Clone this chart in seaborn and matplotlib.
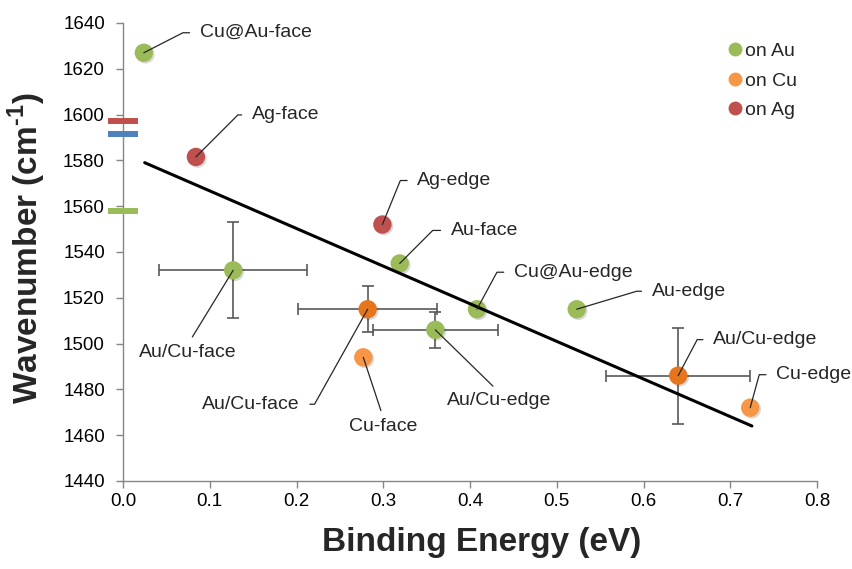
import numpy as np
import pandas as pd
import seaborn as sns
import matplotlib.pyplot as plt
import matplotlib.patheffects as pe
from matplotlib.lines import Line2D

# data
labels = ['Cu@Au-face', 'Ag-face', 'Ag-edge', 'Au-face', 'Au/Cu-face', 'Cu@Au-edge',
          'Au-edge', 'Au/Cu-face', 'Au/Cu-edge', 'Cu-face', 'Au/Cu-edge', 'Cu-edge']
binding_energy = [0.024, 0.084, 0.299, 0.319, 0.127, 0.408, 0.523, 0.282, 0.360, 0.277, 0.640, 0.723]
wavenumber = [1627, 1581.5, 1552, 1535, 1532, 1515, 1515, 1515, 1506, 1494, 1486, 1472]
substrate = ['on Au', 'on Ag', 'on Ag', 'on Au', 'on Au', 'on Au',
             'on Au', 'on Cu', 'on Au', 'on Cu', 'on Cu', 'on Cu']
alloy = [False, False, False, False, True, False, False, True, True, False, True, False]
be_err = [0, 0, 0, 0, 0.085, 0, 0, 0.080, 0.072, 0, 0.083, 0]
wn_err = [0, 0, 0, 0, 21, 0, 0, 10, 8, 0, 21, 0]

# reference bands marked on the y axis
ref_wn = [1597.3, 1591.5, 1558]
ref_colors = ['#C0504D', '#4F81BD', '#9BBB59']

# linear trend
trend_be = [0.025, 0.725]
trend_wn = [1579, 1464]

legend_order = ['on Au', 'on Cu', 'on Ag']
palette = {'on Au': '#9BBB59', 'on Cu': '#F79646', 'on Ag': '#C0504D', 'alloy on Cu': '#E5761E'}

df = pd.DataFrame({'be': binding_energy, 'wn': wavenumber, 'substrate': substrate,
                   'alloy': alloy, 'be_err': be_err, 'wn_err': wn_err, 'label': labels})
df['shade'] = np.where(df['alloy'] & (df['substrate'] == 'on Cu'), 'alloy on Cu', df['substrate'])

sns.set_style('white')
plt.rcParams['font.family'] = ['Liberation Sans', 'DejaVu Sans']
plt.rcParams['mathtext.fontset'] = 'custom'
plt.rcParams['mathtext.rm'] = 'Liberation Sans'
plt.rcParams['mathtext.bf'] = 'Liberation Sans:bold'

fig, ax = plt.subplots(figsize=(8.53, 5.69), dpi=100)
fig.subplots_adjust(left=0.1442, right=0.9578, bottom=0.1547, top=0.9596)

err = df[df['be_err'] > 0]
ax.errorbar(err['be'], err['wn'], xerr=err['be_err'], yerr=err['wn_err'], fmt='none',
            ecolor='#595959', elinewidth=1.2, capsize=4, capthick=1.2, zorder=2)

sns.scatterplot(data=df, x='be', y='wn', hue='shade', palette=palette, s=175,
                edgecolor='none', legend=False, ax=ax, zorder=3)
ax.collections[-1].set_path_effects([
    pe.SimplePatchShadow(offset=(1.2, -1.2), shadow_rgbFace='black', alpha=0.15), pe.Normal()])

sns.lineplot(x=trend_be, y=trend_wn, color='black', lw=2.2, ax=ax, zorder=4)

for w, c in zip(ref_wn, ref_colors):
    ax.plot(0, w, marker='_', ms=21, mew=4.3, color=c, clip_on=False, zorder=5)

# label offsets in pixels (dx, dy down, hook corner x) -> converted to points
hooked = {0: (56, -20, 39), 1: (56, -42, 42), 2: (35, -44, 18), 3: (51, -33, 33),
          5: (37, -37, 20), 6: (75, -18, 60), 10: (35, -36, 19), 11: (26, -33, 9),
          7: (-68, 95, -53)}
straight = {4: (-45, 82), 9: (20, 69), 8: (64, 71)}
k = 0.72
for i, row in df.iterrows():
    if i in hooked:
        dx, dy, cx = hooked[i]
        tx, ty, cxp = dx * k, -dy * k, cx * k
        angB = np.degrees(np.arctan2(ty, cxp))
        left = dx > 0
        ax.annotate(row['label'], xy=(row['be'], row['wn']), xytext=(tx, ty),
                    textcoords='offset points', ha='left' if left else 'right', va='center',
                    fontsize=14, zorder=6,
                    arrowprops=dict(arrowstyle='-', color='#262626', lw=0.9, shrinkA=5, shrinkB=0,
                                    relpos=(0, 0.5) if left else (1, 0.5),
                                    connectionstyle=f'angle,angleA=0,angleB={angB:.1f},rad=0'))
    else:
        dx, dy = straight[i]
        ax.annotate(row['label'], xy=(row['be'], row['wn']), xytext=(dx * k, -dy * k),
                    textcoords='offset points', ha='center', va='center', fontsize=14, zorder=6,
                    arrowprops=dict(arrowstyle='-', color='#262626', lw=0.9, shrinkA=3, shrinkB=0,
                                    relpos=(0.5, 1)))

ax.set_xlim(0, 0.8)
ax.set_ylim(1440, 1640)
ax.set_xticks(np.arange(0, 0.81, 0.1))
ax.set_xticklabels([f'{v:.1f}' for v in np.arange(0, 0.81, 0.1)])
ax.set_yticks(np.arange(1440, 1641, 20))

for s in ['top', 'right']:
    ax.spines[s].set_visible(False)
for s in ['left', 'bottom']:
    ax.spines[s].set_color('#868686')
    ax.spines[s].set_linewidth(1)
ax.tick_params(axis='both', bottom=True, left=True, direction='out', length=5, width=1,
               color='#868686', labelsize=13.5, labelcolor='black')
ax.tick_params(axis='y', pad=8)
ax.tick_params(axis='x', pad=4)

ax.set_xlabel('Binding Energy (eV)', fontsize=24, fontweight='bold')
ax.set_ylabel('Wavenumber (cm$^{\\mathbf{\u20101}}$)', fontsize=24, fontweight='bold')
ax.xaxis.set_label_coords(0.517, -0.100)
ax.yaxis.set_label_coords(-0.108, 0.509)

handles = [Line2D([], [], marker='o', ls='none', ms=9, color=palette[s]) for s in legend_order]
ax.legend(handles, legend_order, loc='upper left', bbox_to_anchor=(0.873, 0.958), frameon=False,
          fontsize=14, handlelength=0.6, handletextpad=0.25, borderpad=0, borderaxespad=0,
          labelspacing=0.62)

fig.savefig('out.png', dpi=100)
